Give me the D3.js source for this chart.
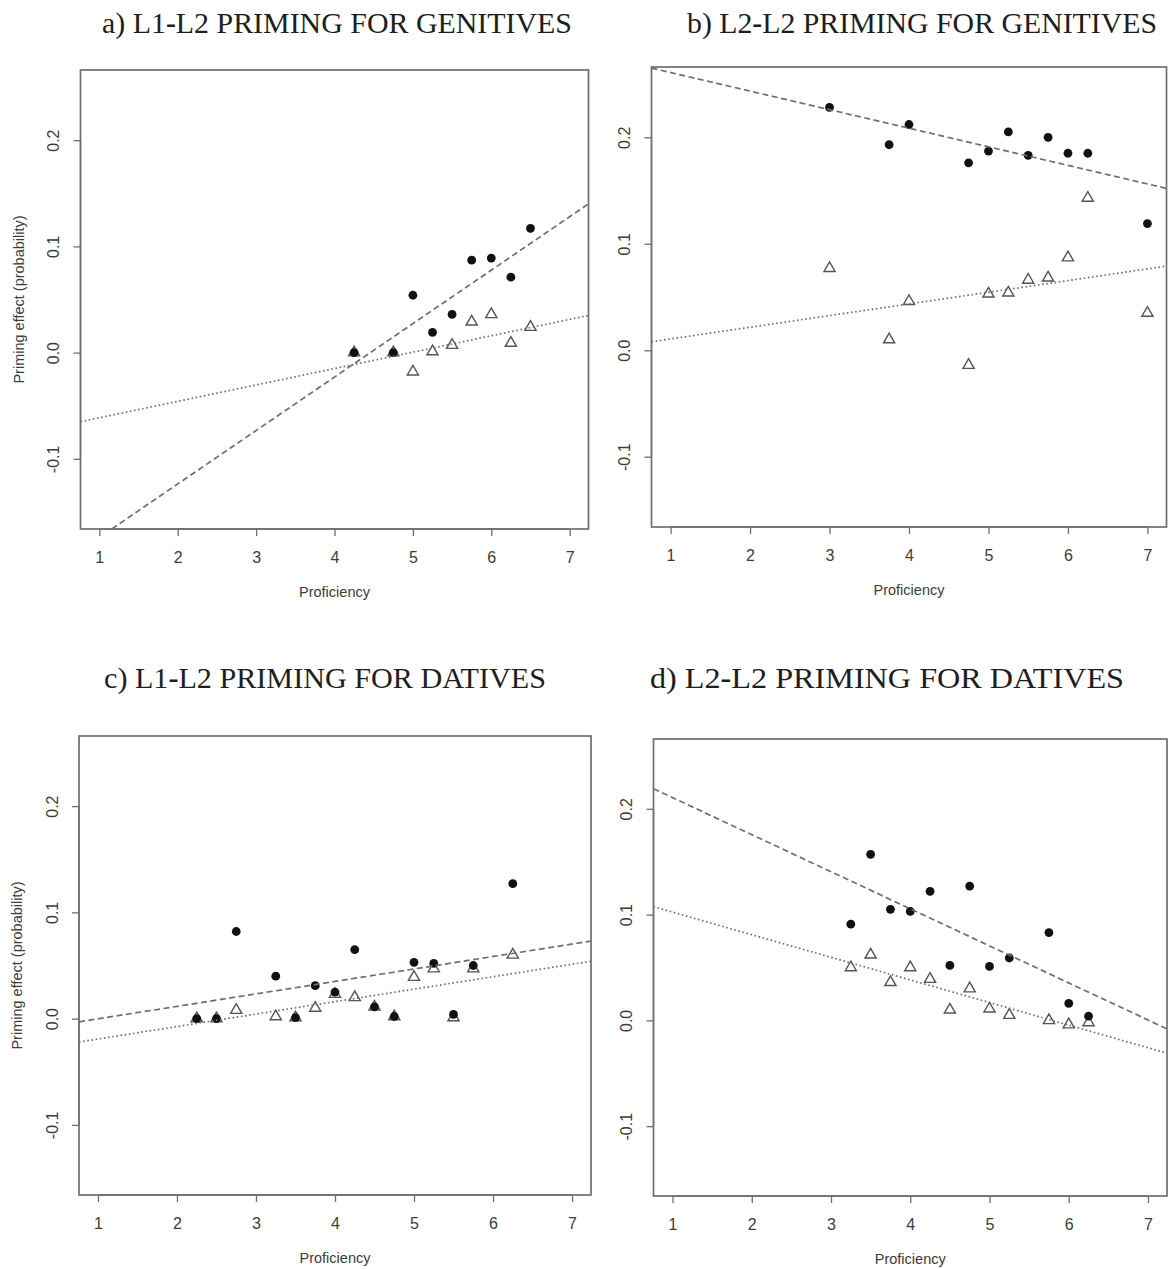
<!DOCTYPE html>
<html>
<head>
<meta charset="utf-8">
<script src="https://cdn.jsdelivr.net/npm/d3@7"></script>
<style>
  body { margin: 0; background: #fff; }
  svg { display: block; }
</style>
</head>
<body>
<script>
let width = 1169;
let height = 1269;

// axis limits (R style, 4% padding around 1..7 and -0.15..0.25)
const xDomain = [0.76, 7.24];
const yDomain = [-0.166, 0.266];
const xTicks = [1, 2, 3, 4, 5, 6, 7];
const yTicks = [-0.1, 0.0, 0.1, 0.2];
const lineX = [0.76, 7.24];

// a) L1-L2 genitives
const xA = [4.25, 4.75, 5, 5.25, 5.5, 5.75, 6, 6.25, 6.5];
const circlesA = [0, 0, 0.054, 0.019, 0.036, 0.087, 0.089, 0.071, 0.117];
const trianglesA = [0, 0, -0.018, 0.001, 0.007, 0.029, 0.036, 0.009, 0.024];
const dashedA = [-0.186, 0.140];
const dottedA = [-0.065, 0.035];

// b) L2-L2 genitives
const xB = [3, 3.75, 4, 4.75, 5, 5.25, 5.5, 5.75, 6, 6.25, 7];
const circlesB = [0.228, 0.193, 0.212, 0.176, 0.187, 0.205, 0.183, 0.200, 0.185, 0.185, 0.119];
const trianglesB = [0.077, 0.010, 0.046, -0.014, 0.053, 0.054, 0.066, 0.068, 0.087, 0.143, 0.035];
const dashedB = [0.265, 0.152];
const dottedB = [0.008, 0.079];

// c) L1-L2 datives
const xC = [2.25, 2.5, 2.75, 3.25, 3.5, 3.75, 4, 4.25, 4.5, 4.75, 5, 5.25, 5.5, 5.75, 6.25];
const circlesC = [0, 0, 0.082, 0.040, 0.001, 0.031, 0.025, 0.065, 0.011, 0.002, 0.053, 0.052, 0.004, 0.050, 0.127];
const trianglesC = [0, 0, 0.008, 0.002, 0.001, 0.010, 0.023, 0.020, 0.011, 0.002, 0.039, 0.047, 0.001, 0.047, 0.060];
const dashedC = [-0.003, 0.073];
const dottedC = [-0.022, 0.054];

// d) L2-L2 datives
const xD = [3.25, 3.5, 3.75, 4, 4.25, 4.5, 4.75, 5, 5.25, 5.75, 6, 6.25];
const circlesD = [0.091, 0.157, 0.105, 0.103, 0.122, 0.052, 0.127, 0.051, 0.059, 0.083, 0.016, 0.004];
const trianglesD = [0.050, 0.062, 0.036, 0.050, 0.039, 0.010, 0.030, 0.011, 0.005, 0.0, -0.004, -0.002];
const dashedD = [0.219, -0.008];
const dottedD = [0.1075, -0.031];

const titles = [
  ["a) L1", "L2 PRIMING FOR GENITIVES"],
  ["b) L2", "L2 PRIMING FOR GENITIVES"],
  ["c) L1", "L2 PRIMING FOR DATIVES"],
  ["d) L2", "L2 PRIMING FOR DATIVES"]
];

let panels = [
  { x: xA, c: circlesA, t: trianglesA, dash: dashedA, dot: dottedA, title: titles[0],
    left: 80.5, top: 70, right: 588.5, bottom: 529, titleX: 337, titleY: 33, titleW: 470, yLabel: true },
  { x: xB, c: circlesB, t: trianglesB, dash: dashedB, dot: dottedB, title: titles[1],
    left: 651.5, top: 67, right: 1166.5, bottom: 527, titleX: 922, titleY: 33, titleW: 470, yLabel: false },
  { x: xC, c: circlesC, t: trianglesC, dash: dashedC, dot: dottedC, title: titles[2],
    left: 79, top: 736, right: 591, bottom: 1195, titleX: 325, titleY: 688, titleW: 442, yLabel: true },
  { x: xD, c: circlesD, t: trianglesD, dash: dashedD, dot: dottedD, title: titles[3],
    left: 653.5, top: 739, right: 1167, bottom: 1196, titleX: 887, titleY: 688, titleW: 474, yLabel: false }
];

let svg = d3.select("body")
  .append("svg")
  .attr("width", width)
  .attr("height", height);

const grey = "#6f6f6f";
const textGrey = "#3c3c3c";

function drawPanel(p, i) {
  let scaleX = d3.scaleLinear().domain(xDomain).range([p.left, p.right]);
  let scaleY = d3.scaleLinear().domain(yDomain).range([p.bottom, p.top]);

  // title, hyphen in bold like the original
  let title = svg.append("text")
    .attr("x", p.titleX - p.titleW / 2)
    .attr("y", p.titleY)
    .attr("textLength", p.titleW)
    .attr("lengthAdjust", "spacingAndGlyphs")
    .style("font-family", "'Liberation Serif', serif")
    .style("font-size", "29.5px")
    .style("fill", "#1e1e1e");
  title.append("tspan").text(p.title[0]);
  title.append("tspan").style("font-weight", "bold").text("-");
  title.append("tspan").text(p.title[1]);

  // x axis
  let axisX = d3.axisBottom(scaleX).tickValues(xTicks).tickSize(7).tickFormat(d => String(d));
  let gx = svg.append("g")
    .attr("transform", `translate(0, ${p.bottom})`)
    .call(axisX);

  // y axis, labels rotated like R's default
  let axisY = d3.axisLeft(scaleY).tickValues(yTicks).tickSize(7).tickFormat(d => d.toFixed(1));
  let gy = svg.append("g")
    .attr("transform", `translate(${p.left}, 0)`)
    .call(axisY);

  [gx, gy].forEach(g => {
    g.select(".domain").remove();
    g.selectAll(".tick line").attr("stroke", grey).attr("stroke-width", 1.3);
    g.selectAll(".tick text")
      .style("font-family", "'Liberation Sans', Arial, sans-serif")
      .style("font-size", "16px")
      .attr("fill", textGrey);
  });
  gx.selectAll(".tick text").attr("y", 28).attr("dy", "0.35em");
  gy.selectAll(".tick text")
    .attr("x", null)
    .attr("text-anchor", "middle")
    .attr("transform", "translate(-27, 0) rotate(-90)")
    .attr("dy", "0.35em");

  // axis lines from first to last tick
  svg.append("line")
    .attr("x1", scaleX(1)).attr("x2", scaleX(7))
    .attr("y1", p.bottom).attr("y2", p.bottom)
    .attr("stroke", grey).attr("stroke-width", 1.3);
  svg.append("line")
    .attr("x1", p.left).attr("x2", p.left)
    .attr("y1", scaleY(-0.1)).attr("y2", scaleY(0.2))
    .attr("stroke", grey).attr("stroke-width", 1.3);

  // axis titles
  svg.append("text")
    .attr("x", (p.left + p.right) / 2)
    .attr("y", p.bottom + 63)
    .attr("dy", "0.35em")
    .attr("text-anchor", "middle")
    .style("font-family", "'Liberation Sans', Arial, sans-serif")
    .style("font-size", "14.5px")
    .attr("fill", textGrey)
    .text("Proficiency");

  if (p.yLabel) {
    svg.append("text")
      .attr("transform", `translate(${p.left - 62}, ${(p.top + p.bottom) / 2}) rotate(-90)`)
      .attr("dy", "0.35em")
      .attr("text-anchor", "middle")
      .style("font-family", "'Liberation Sans', Arial, sans-serif")
      .style("font-size", "14.5px")
      .attr("fill", textGrey)
      .text("Priming effect (probability)");
  }

  // clip to plot region
  let clipId = "clip" + i;
  svg.append("clipPath").attr("id", clipId)
    .append("rect")
    .attr("x", p.left).attr("y", p.top)
    .attr("width", p.right - p.left).attr("height", p.bottom - p.top);

  let plot = svg.append("g").attr("clip-path", `url(#${clipId})`);

  // triangles (open)
  let tri = d3.symbol(d3.symbolTriangle, 54);
  plot.selectAll("path.tri")
    .data(p.x.map((x, k) => ({ x: x, y: p.t[k] })))
    .join("path")
    .attr("class", "tri")
    .attr("d", tri)
    .attr("transform", d => `translate(${scaleX(d.x)}, ${scaleY(d.y)})`)
    .attr("fill", "none")
    .attr("stroke", "#555")
    .attr("stroke-width", 1.4);

  // filled circles
  plot.selectAll("circle")
    .data(p.x.map((x, k) => ({ x: x, y: p.c[k] })))
    .join("circle")
    .attr("cx", d => scaleX(d.x))
    .attr("cy", d => scaleY(d.y))
    .attr("r", 4.4)
    .attr("fill", "#111");

  let line = d3.line()
    .x(d => scaleX(d.x))
    .y(d => scaleY(d.y));

  // fitted lines
  plot.append("path")
    .datum(lineX.map((x, k) => ({ x: x, y: p.dash[k] })))
    .attr("d", line)
    .attr("fill", "none")
    .attr("stroke", grey)
    .attr("stroke-width", 1.7)
    .attr("stroke-dasharray", "6,3.5");

  plot.append("path")
    .datum(lineX.map((x, k) => ({ x: x, y: p.dot[k] })))
    .attr("d", line)
    .attr("fill", "none")
    .attr("stroke", grey)
    .attr("stroke-width", 1.7)
    .attr("stroke-dasharray", "1.6,2.6");

  // box
  svg.append("rect")
    .attr("x", p.left).attr("y", p.top)
    .attr("width", p.right - p.left).attr("height", p.bottom - p.top)
    .attr("fill", "none")
    .attr("stroke", grey)
    .attr("stroke-width", 1.7);
}

panels.forEach(drawPanel);
</script>
</body>
</html>
